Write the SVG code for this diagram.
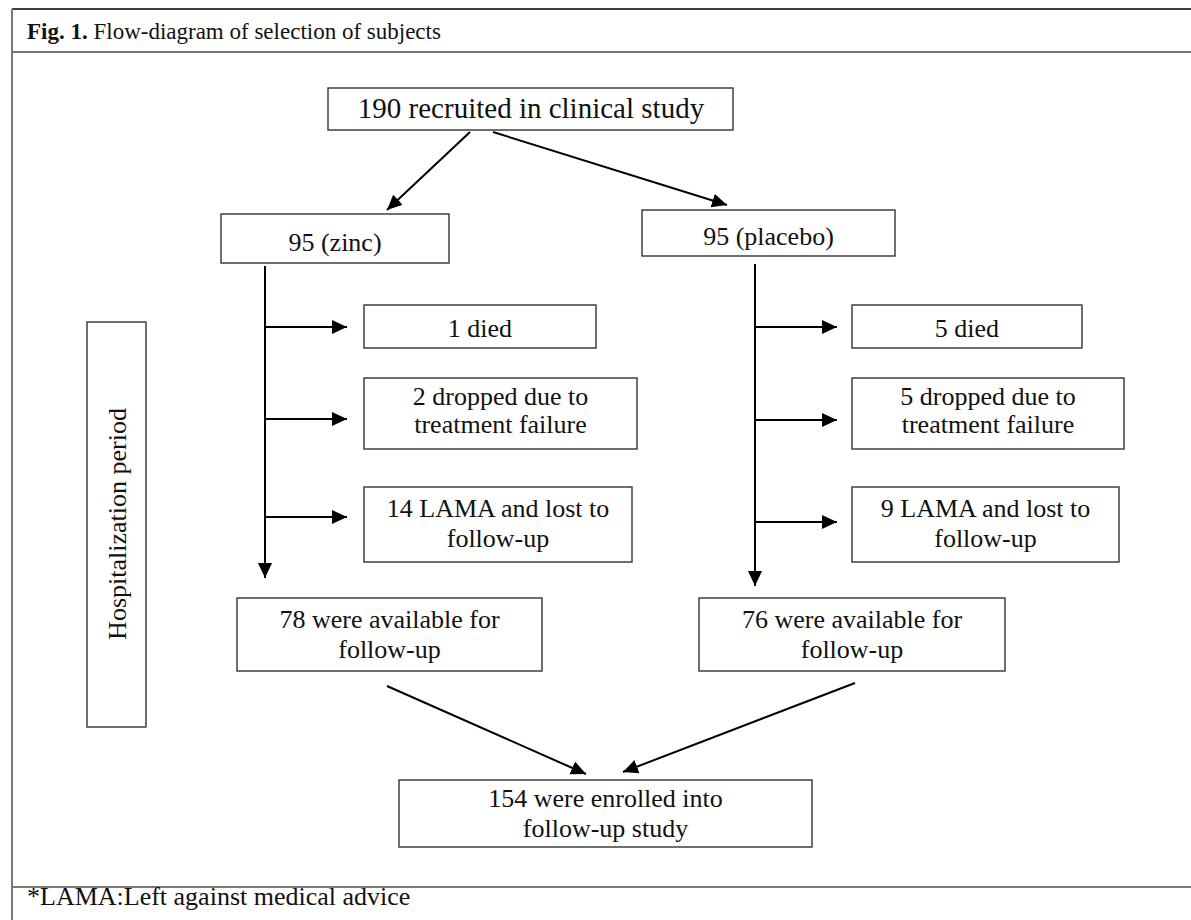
<svg xmlns="http://www.w3.org/2000/svg" width="1191" height="920" viewBox="0 0 1191 920">
<style>
text{font-family:"Liberation Serif","Times New Roman",serif;font-size:26px;fill:#111;}
.c{text-anchor:middle;}
.box{fill:#fff;stroke:#333;stroke-width:1.4;}
.ln{stroke:#000;stroke-width:2;fill:none;}
.frame{stroke:#7a7a7a;stroke-width:2;fill:none;}
</style>
<defs>
<marker id="ah" markerUnits="userSpaceOnUse" markerWidth="16" markerHeight="16" refX="15" refY="7" orient="auto"><path d="M0,0 L15,7 L0,14 z" fill="#000"/></marker>
</defs>
<rect width="1191" height="920" fill="#fff"/>
<g id="frame">
<line x1="12" y1="9" x2="1191" y2="9" stroke="#000" stroke-width="1.6"/>
<line class="frame" x1="12" y1="9" x2="12" y2="920"/>
<line class="frame" x1="12" y1="52" x2="1191" y2="52"/>
<line class="frame" x1="12" y1="887" x2="1191" y2="887"/>
<text x="27" y="39" style="font-size:23px"><tspan font-weight="bold">Fig. 1.</tspan> Flow-diagram of selection of subjects</text>
<text x="27" y="905">*LAMA:Left against medical advice</text>
</g>
<g id="connectors">
<line class="ln" x1="470" y1="132" x2="387" y2="210" marker-end="url(#ah)"/>
<line class="ln" x1="493" y1="132" x2="727" y2="205" marker-end="url(#ah)"/>
<line class="ln" x1="265" y1="266" x2="265" y2="578" marker-end="url(#ah)"/>
<line class="ln" x1="265" y1="327" x2="347" y2="327" marker-end="url(#ah)"/>
<line class="ln" x1="265" y1="419" x2="347" y2="419" marker-end="url(#ah)"/>
<line class="ln" x1="265" y1="517" x2="347" y2="517" marker-end="url(#ah)"/>
<line class="ln" x1="755" y1="264" x2="755" y2="586" marker-end="url(#ah)"/>
<line class="ln" x1="755" y1="327" x2="837" y2="327" marker-end="url(#ah)"/>
<line class="ln" x1="755" y1="420" x2="837" y2="420" marker-end="url(#ah)"/>
<line class="ln" x1="755" y1="522" x2="837" y2="522" marker-end="url(#ah)"/>
<line class="ln" x1="387" y1="686" x2="586" y2="774" marker-end="url(#ah)"/>
<line class="ln" x1="855" y1="683" x2="623" y2="772" marker-end="url(#ah)"/>
</g>
<g id="recruited">
<rect class="box" x="328" y="88" width="405" height="42"/>
<text class="c" x="531" y="118" style="font-size:29px">190 recruited in clinical study</text>
</g>
<g id="zinc">
<rect class="box" x="221" y="214" width="228" height="49"/>
<text class="c" x="335" y="251">95 (zinc)</text>
</g>
<g id="placebo">
<rect class="box" x="642" y="210" width="253" height="46"/>
<text class="c" x="768.5" y="245">95 (placebo)</text>
</g>
<g id="hosp">
<rect class="box" x="87" y="322" width="59" height="405"/>
<text class="c" transform="translate(126,524) rotate(-90)">Hospitalization period</text>
</g>
<g id="zinc-died">
<rect class="box" x="364" y="305" width="232" height="43"/>
<text class="c" x="480" y="337">1 died</text>
</g>
<g id="zinc-dropped">
<rect class="box" x="364" y="378" width="273" height="71"/>
<text class="c" x="500.5" y="405">2 dropped due to</text>
<text class="c" x="500.5" y="433">treatment failure</text>
</g>
<g id="zinc-lama">
<rect class="box" x="364" y="487" width="268" height="75"/>
<text class="c" x="498" y="517">14 LAMA and lost to</text>
<text class="c" x="498" y="547">follow-up</text>
</g>
<g id="placebo-died">
<rect class="box" x="852" y="305" width="230" height="43"/>
<text class="c" x="967" y="337">5 died</text>
</g>
<g id="placebo-dropped">
<rect class="box" x="852" y="378" width="272" height="71"/>
<text class="c" x="988" y="405">5 dropped due to</text>
<text class="c" x="988" y="433">treatment failure</text>
</g>
<g id="placebo-lama">
<rect class="box" x="852" y="487" width="267" height="75"/>
<text class="c" x="985.5" y="517">9 LAMA and lost to</text>
<text class="c" x="985.5" y="547">follow-up</text>
</g>
<g id="zinc-available">
<rect class="box" x="237" y="598" width="305" height="73"/>
<text class="c" x="389.5" y="628">78 were available for</text>
<text class="c" x="389.5" y="658">follow-up</text>
</g>
<g id="placebo-available">
<rect class="box" x="699" y="598" width="306" height="73"/>
<text class="c" x="852" y="628">76 were available for</text>
<text class="c" x="852" y="658">follow-up</text>
</g>
<g id="enrolled">
<rect class="box" x="399" y="780" width="413" height="67"/>
<text class="c" x="605.5" y="807">154 were enrolled into</text>
<text class="c" x="605.5" y="837">follow-up study</text>
</g>
</svg>
